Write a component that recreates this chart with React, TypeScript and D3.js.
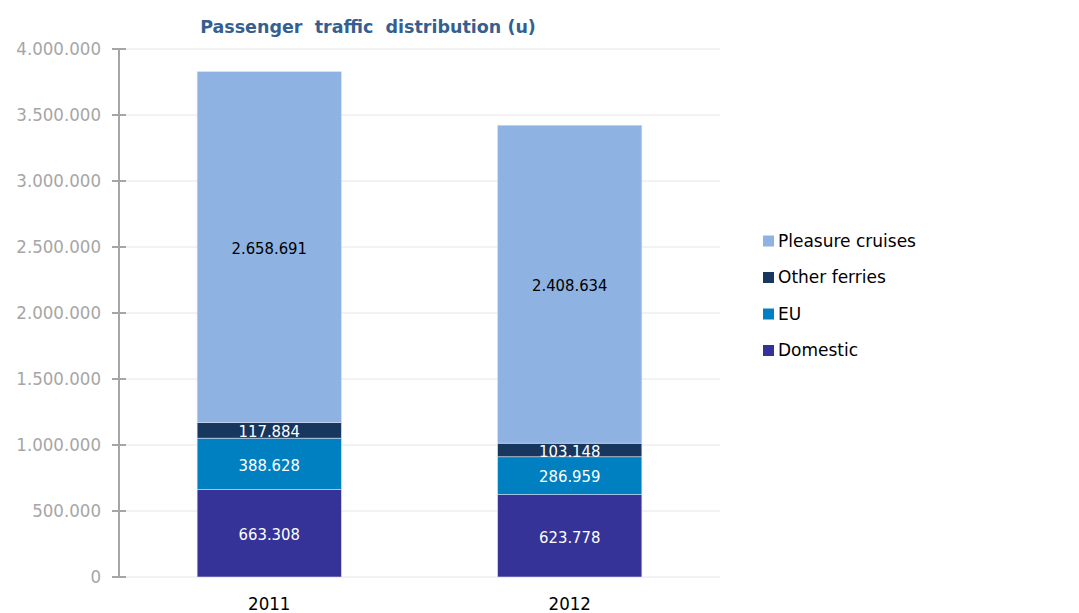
import React from "react";
import * as d3 from "d3";

const years = ["2011", "2012"];
const seriesNames = ["Domestic", "EU", "Other ferries", "Pleasure cruises"];
const domestic = [663308, 623778];
const eu = [388628, 286959];
const otherFerries = [117884, 103148];
const pleasureCruises = [2658691, 2408634];
const colors = ["#353398", "#0080c0", "#17375e", "#8eb3e2"];
const labelColors = ["#ffffff", "#ffffff", "#ffffff", "#000000"];
const yTicks = [0, 500000, 1000000, 1500000, 2000000, 2500000, 3000000, 3500000, 4000000];

const width = 1079;
const height = 613;
const font = "'DejaVu Sans', Verdana, sans-serif";
const condensed = "'DejaVu Sans Condensed', 'DejaVu Sans', sans-serif";

const fmt = (v: number) => d3.format(",")(v).replace(/,/g, ".");

const App = () => {
  const rows = years.map((y, i) => ({
    year: y,
    Domestic: domestic[i],
    EU: eu[i],
    "Other ferries": otherFerries[i],
    "Pleasure cruises": pleasureCruises[i],
  }));
  const stacked = d3.stack<any>().keys(seriesNames)(rows);

  const x = d3.scaleBand().domain(years).range([119, 720]).paddingInner(0.52).paddingOuter(0.26);
  const y = d3.scaleLinear().domain([0, 4000000]).range([577, 49]);

  const legendOrder = [...seriesNames].reverse();

  return (
    <svg width={width} height={height} style={{ position: "absolute", left: 0, top: 0, background: "#fff" }}>
      <text x={368} y={33} textAnchor="middle" fontFamily={font} fontWeight="bold" fontSize={17.5} fill="#365f91" style={{ whiteSpace: "pre" }}>
        {"Passenger  traffic  distribution (u)"}
      </text>
      {yTicks.map((t) => (
        <g key={t}>
          <line x1={126} x2={720} y1={y(t)} y2={y(t)} stroke="#e6e6e6" strokeWidth={1} />
          <line x1={112} x2={126} y1={y(t)} y2={y(t)} stroke="#a6a6a6" strokeWidth={2} />
          <text x={101} y={y(t)} dy="0.35em" textAnchor="end" fontFamily={condensed} fontSize={18.5} fill="#a6a6a6">
            {fmt(t)}
          </text>
        </g>
      ))}
      <line x1={119} x2={119} y1={y(4000000)} y2={y(0)} stroke="#a6a6a6" strokeWidth={2} />
      {stacked.map((s, si) => (
        <g key={s.key}>
          {s.map((d, i) => (
            <g key={i}>
              <rect
                x={x(years[i])!}
                width={x.bandwidth()}
                y={y(d[1])}
                height={y(d[0]) - y(d[1])}
                fill={colors[si]}
                stroke="#dcdcf0"
                strokeWidth={0.6}
              />
              <text
                x={x(years[i])! + x.bandwidth() / 2}
                y={(y(d[0]) + y(d[1])) / 2 + 1}
                dy="0.35em"
                textAnchor="middle"
                fontFamily={condensed}
                fontSize={16.5}
                fill={labelColors[si]}
              >
                {fmt(d[1] - d[0])}
              </text>
            </g>
          ))}
        </g>
      ))}
      {years.map((yr) => (
        <text key={yr} x={x(yr)! + x.bandwidth() / 2} y={610} textAnchor="middle" fontFamily={condensed} fontSize={18.5} fill="#000">
          {yr}
        </text>
      ))}
      {legendOrder.map((name, i) => {
        const ci = seriesNames.indexOf(name);
        const cy = 241 + i * 36.5;
        return (
          <g key={name}>
            <rect x={763} y={cy - 5.5} width={11} height={11} fill={colors[ci]} />
            <text x={778} y={cy} dy="0.35em" fontFamily={font} fontSize={17} fill="#000">
              {name}
            </text>
          </g>
        );
      })}
    </svg>
  );
};

export default App;
